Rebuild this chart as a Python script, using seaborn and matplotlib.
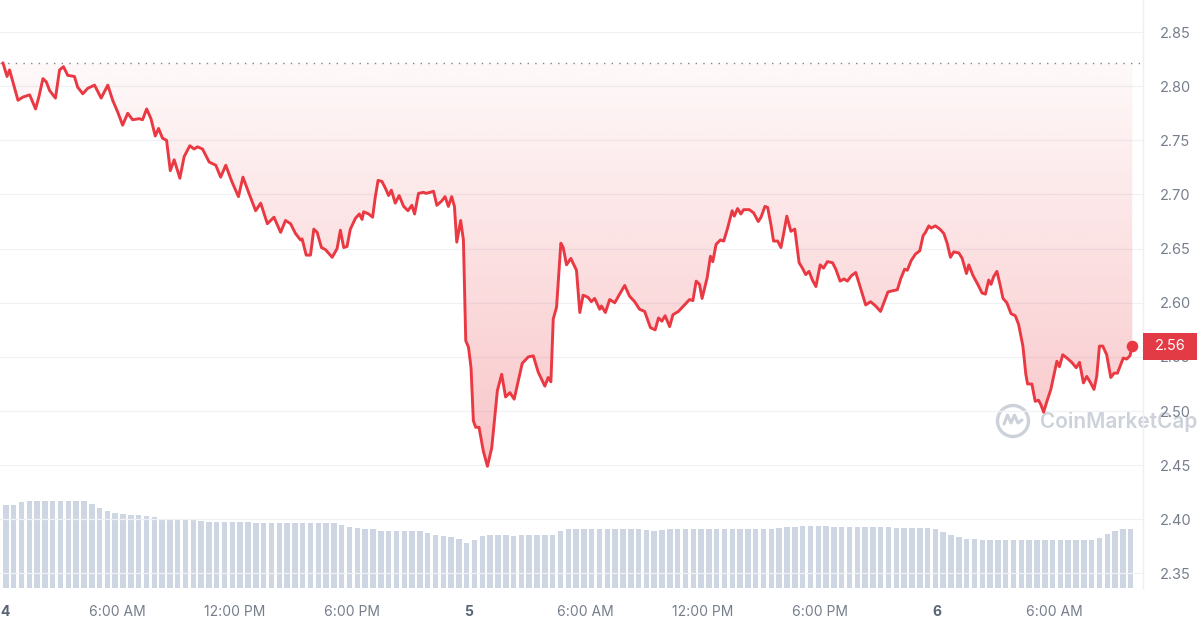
import numpy as np
import matplotlib
matplotlib.use("Agg")
import matplotlib.pyplot as plt
import matplotlib.path as mpath
from matplotlib.patches import Rectangle, Circle
from matplotlib.lines import Line2D
import seaborn as sns

# ---------------- data ----------------
# hours since day "4" 00:00
hours = [
    0.15, 0.36, 0.49, 0.66, 0.92, 1.18, 1.52, 1.82, 1.99, 2.20,
    2.37, 2.54, 2.84, 3.05, 3.25, 3.47, 3.81, 3.98, 4.24, 4.49,
    4.84, 5.18, 5.52, 5.77, 6.03, 6.28, 6.54, 6.79, 7.13, 7.30,
    7.51, 7.73, 7.95, 8.12, 8.32, 8.53, 8.72, 8.92, 9.21, 9.43,
    9.72, 9.94, 10.11, 10.37, 10.71, 11.05, 11.30, 11.56, 11.87, 12.21,
    12.44, 12.75, 13.09, 13.35, 13.69, 14.03, 14.37, 14.62, 14.88, 15.13,
    15.39,
    15.47, 15.68, 15.90, 16.07, 16.24, 16.46, 16.67, 17.01, 17.26, 17.43,
    17.60, 17.77, 17.94, 18.20, 18.40, 18.54, 18.62, 18.88, 19.08, 19.22,
    19.36, 19.56, 19.73, 19.90, 20.04, 20.24, 20.44, 20.67, 20.89, 21.09,
    21.23, 21.43, 21.69, 21.81, 22.03, 22.20, 22.37, 22.62, 22.79, 22.96,
    23.13, 23.27, 23.39, 23.59, 23.73, 23.85, 23.99, 24.12, 24.24, 24.36,
    24.53, 24.75, 24.96, 25.18, 25.47, 25.69, 25.89, 26.11, 26.33, 26.54,
    26.74, 27.05, 27.31, 27.56, 27.90, 28.07, 28.21, 28.33, 28.50, 28.72,
    28.84, 29.01, 29.23, 29.52, 29.69, 29.86, 30.11, 30.28, 30.45, 30.71,
    30.80, 31.00, 31.22, 31.48, 31.73, 31.99, 32.24, 32.50, 32.75, 33.01,
    33.31, 33.55, 33.72, 33.89, 34.06, 34.29, 34.46, 34.74, 35.05, 35.31,
    35.48, 35.65, 35.82, 35.95, 36.21, 36.38, 36.50, 36.67, 36.89, 37.06,
    37.26, 37.49, 37.60, 37.77, 37.94, 38.08, 38.37, 38.59, 38.83, 38.97,
    39.17, 39.31, 39.48, 39.61, 39.82, 39.99, 40.12, 40.29, 40.50, 40.70,
    40.92, 41.09, 41.26, 41.43, 41.60, 41.78, 42.00, 42.17, 42.37, 42.63,
    42.80, 43.02, 43.22, 43.39, 43.60, 43.82, 44.04, 44.33, 44.58, 44.84,
    45.09,
    45.30, 45.47, 45.69, 45.95, 46.12, 46.32, 46.46, 46.66, 46.88, 47.10,
    47.27, 47.39, 47.56, 47.68, 47.90, 48.13, 48.33, 48.50, 48.67, 48.84,
    49.10, 49.27, 49.49, 49.61, 49.83, 50.07, 50.29, 50.46, 50.63, 50.75,
    50.88, 51.05, 51.22, 51.36, 51.56, 51.77, 51.99, 52.16, 52.38, 52.53,
    52.62, 52.84, 53.01, 53.18, 53.30, 53.44, 53.61, 53.81, 53.98, 54.12,
    54.25, 54.42, 54.63, 54.88, 55.11, 55.28, 55.48, 55.65, 55.85, 56.02,
    56.16, 56.30, 56.47, 56.67, 56.88, 57.05, 57.22, 57.39, 57.52, 57.69,
    57.86, 57.98,
]

prices = [
    2.8216, 2.809, 2.815, 2.804, 2.787, 2.790, 2.792, 2.779, 2.790, 2.807,
    2.804, 2.796, 2.789, 2.815, 2.818, 2.810, 2.809, 2.799, 2.793, 2.798,
    2.801, 2.789, 2.801, 2.787, 2.776, 2.764, 2.775, 2.769, 2.770, 2.769,
    2.779, 2.770, 2.754, 2.761, 2.752, 2.750, 2.722, 2.732, 2.715, 2.735,
    2.745, 2.742, 2.744, 2.742, 2.730, 2.727, 2.716, 2.727, 2.712, 2.698,
    2.716, 2.701, 2.685, 2.692, 2.673, 2.679, 2.665, 2.676, 2.673, 2.664,
    2.658,
    2.659, 2.644, 2.644, 2.668, 2.665, 2.651, 2.649, 2.642, 2.650, 2.667,
    2.651, 2.652, 2.668, 2.678, 2.682, 2.677, 2.684, 2.682, 2.679, 2.698,
    2.713, 2.712, 2.706, 2.699, 2.704, 2.692, 2.699, 2.689, 2.685, 2.690,
    2.682, 2.701, 2.702, 2.701, 2.702, 2.703, 2.690, 2.694, 2.698, 2.689,
    2.698, 2.689, 2.656, 2.676, 2.658, 2.565, 2.559, 2.540, 2.491, 2.485,
    2.485, 2.463, 2.449, 2.466, 2.519, 2.534, 2.513, 2.517, 2.511, 2.528,
    2.544, 2.550, 2.551, 2.536, 2.523, 2.531, 2.527, 2.585, 2.596, 2.655,
    2.651, 2.635, 2.641, 2.630, 2.591, 2.607, 2.605, 2.601, 2.604, 2.594,
    2.597, 2.591, 2.603, 2.600, 2.608, 2.616, 2.606, 2.601, 2.594, 2.592,
    2.577, 2.575, 2.586, 2.583, 2.588, 2.578, 2.589, 2.592, 2.598, 2.603,
    2.602, 2.620, 2.617, 2.604, 2.623, 2.643, 2.638, 2.654, 2.658, 2.657,
    2.669, 2.685, 2.680, 2.687, 2.682, 2.686, 2.686, 2.683, 2.675, 2.679,
    2.689, 2.688, 2.672, 2.657, 2.657, 2.651, 2.663, 2.680, 2.666, 2.668,
    2.637, 2.632, 2.626, 2.629, 2.621, 2.615, 2.635, 2.632, 2.638, 2.637,
    2.631, 2.620, 2.622, 2.620, 2.625, 2.628, 2.615, 2.598, 2.601, 2.597,
    2.592,
    2.602, 2.610, 2.611, 2.612, 2.622, 2.631, 2.630, 2.639, 2.645, 2.648,
    2.662, 2.665, 2.671, 2.669, 2.671, 2.668, 2.664, 2.655, 2.642, 2.647,
    2.646, 2.641, 2.627, 2.635, 2.625, 2.617, 2.609, 2.608, 2.621, 2.617,
    2.624, 2.629, 2.616, 2.604, 2.600, 2.590, 2.588, 2.580, 2.560, 2.534,
    2.525, 2.525, 2.509, 2.510, 2.506, 2.499, 2.509, 2.520, 2.534, 2.546,
    2.541, 2.552, 2.549, 2.545, 2.540, 2.545, 2.526, 2.532, 2.526, 2.520,
    2.532, 2.560, 2.560, 2.552, 2.531, 2.535, 2.535, 2.543, 2.549, 2.548,
    2.551, 2.560,
]

# volume per 24-minute bucket (relative units)
volumes = [
    83, 83, 86, 87, 87, 87, 87, 87, 87, 87,
    87, 84, 80, 77, 75, 74, 73, 73, 72, 71,
    69, 69, 68, 68, 68, 67, 66, 66, 66, 66,
    66, 66, 65, 65, 65, 65, 65, 65, 65, 65,
    65, 65, 65, 63, 61, 60, 59, 59, 57, 57,
    57, 57, 57, 57, 55, 53, 52, 51, 49, 45,
    48, 52, 53, 53, 53, 52, 53, 53, 53, 53,
    53, 57, 59, 59, 59, 59, 59, 59, 59, 59,
    59, 59, 58, 57, 58, 59, 59, 59, 59, 59,
    59, 59, 59, 59, 59, 59, 59, 59, 59, 60,
    61, 61, 62, 62, 62, 62, 61, 61, 61, 61,
    61, 61, 61, 61, 60, 60, 60, 60, 60, 59,
    56, 53, 51, 49, 49, 48, 48, 48, 48, 48,
    48, 48, 48, 48, 48, 48, 48, 48, 48, 48,
    50, 54, 57, 59, 59,
]
vol_hours = np.round(0.3 + 0.4 * np.arange(len(volumes)), 2)

open_price = 2.8216
last_price_label = "2.56"
y_ticks = [2.35, 2.40, 2.45, 2.50, 2.55, 2.60, 2.65, 2.70, 2.75, 2.80, 2.85]
x_ticks = [0, 6, 12, 18, 24, 30, 36, 42, 48, 54]
x_tick_labels = ["4", "6:00 AM", "12:00 PM", "6:00 PM", "5",
                 "6:00 AM", "12:00 PM", "6:00 PM", "6", "6:00 AM"]
day_labels = {"4", "5", "6"}

# ---------------- style ----------------
RED = "#ea3943"
sns.set_theme(style="white")
plt.rcParams["font.family"] = ["Inter", "DejaVu Sans"]

W, H = 1200, 630
fig = plt.figure(figsize=(W / 100, H / 100), dpi=100)
fig.patch.set_facecolor("white")
ax_rect = [0, 42 / H, 1143 / W, 588 / H]
axv = fig.add_axes(ax_rect, zorder=0)
ax = fig.add_axes(ax_rect, zorder=1)
ax.patch.set_alpha(0)

XMIN, XMAX = 0.0, 58.53
YMIN, YMAX = 2.3366, 2.8796

# volume bars
sns.barplot(x=vol_hours, y=volumes, native_scale=True, color="#cfd6e3",
            saturation=1, width=0.7, errorbar=None, linewidth=0, ax=axv)
axv.set_xlim(XMIN, XMAX)
axv.set_ylim(0, max(volumes) * 6.76)
axv.axis("off")

# gradient fill between price and open price
poly = ax.fill_between(hours, prices, open_price, facecolor="none", edgecolor="none")
clip = mpath.Path.make_compound_path(*poly.get_paths())
n = 256
img = np.zeros((n, 1, 4))
img[..., 0] = 234 / 255
img[..., 1] = 57 / 255
img[..., 2] = 67 / 255
img[:, 0, 3] = np.linspace(0.30, 0.03, n)
im = ax.imshow(img, extent=[XMIN, XMAX, 2.44, open_price], origin="lower",
               aspect="auto", zorder=1, interpolation="bilinear")
im.set_clip_path(clip, transform=ax.transData)

# opening price dotted line
ax.axhline(open_price, color="#7d8591", lw=1.0, ls=(0, (1, 4.5)), zorder=2)

# price line
sns.lineplot(x=hours, y=prices, color=RED, linewidth=2.1, estimator=None,
             sort=False, ax=ax, zorder=3)
ax.scatter([hours[-1]], [prices[-1]], s=70, color=RED, zorder=4, clip_on=False,
           linewidths=0)

ax.set_xlim(XMIN, XMAX)
ax.set_ylim(YMIN, YMAX)

# axes decorations
ax.set_yticks(y_ticks)
ax.set_yticklabels([f"{v:.2f}" for v in y_ticks])
ax.yaxis.tick_right()
ax.yaxis.grid(True, color="#eff1f4", lw=0.9)
ax.xaxis.grid(False)
ax.set_axisbelow(True)
ax.tick_params(axis="y", length=0, pad=12, labelsize=10.5, labelcolor="#767e8c")
ax.set_xticks(x_ticks)
ax.set_xticklabels(x_tick_labels)
ax.tick_params(axis="x", length=0, pad=12, labelsize=10, labelcolor="#767e8c")
for lab in ax.get_xticklabels():
    if lab.get_text() in day_labels:
        lab.set_fontweight("bold")
        lab.set_color("#5a6475")
ax.get_xticklabels()[0].set_horizontalalignment("left")
ax.set_xlabel("")
ax.set_ylabel("")
for s in ["top", "left", "bottom"]:
    ax.spines[s].set_visible(False)
ax.spines["right"].set_color("#eceff3")
ax.spines["right"].set_linewidth(1.0)

# watermark
wm_color = "#cdd2da"
ax.text(1040 / W, 1 - 421 / H, "CoinMarketCap", transform=fig.transFigure,
        fontsize=15, color=wm_color, fontweight="semibold", va="center",
        ha="left", zorder=0.5, clip_on=False)
cx, cy = 10.13, (H - 421) / 100
logo = Circle((cx, cy), 0.155, transform=fig.dpi_scale_trans, fill=False,
              edgecolor=wm_color, lw=2.4, zorder=0.5)
ax.add_patch(logo)
wx = [-0.09, -0.055, -0.02, 0.015, 0.05, 0.09]
wy = [-0.03, 0.06, -0.02, 0.06, -0.02, 0.01]
ax.add_line(Line2D([cx + v for v in wx], [cy + v for v in wy],
                   transform=fig.dpi_scale_trans, color=wm_color, lw=2.2,
                   zorder=0.5))

# last price badge
fig.canvas.draw()
y_disp = ax.transData.transform((0, prices[-1]))[1]
fig.add_artist(Rectangle((1143 / W, (y_disp - 13.5) / H), 54 / W, 27 / H,
                         transform=fig.transFigure, facecolor="#e23b45",
                         edgecolor="none", zorder=5))
fig.text((1143 + 27) / W, y_disp / H, last_price_label, color="white",
         ha="center", va="center", fontsize=10.5, zorder=6)

fig.savefig("out.png", dpi=100, facecolor="white")
